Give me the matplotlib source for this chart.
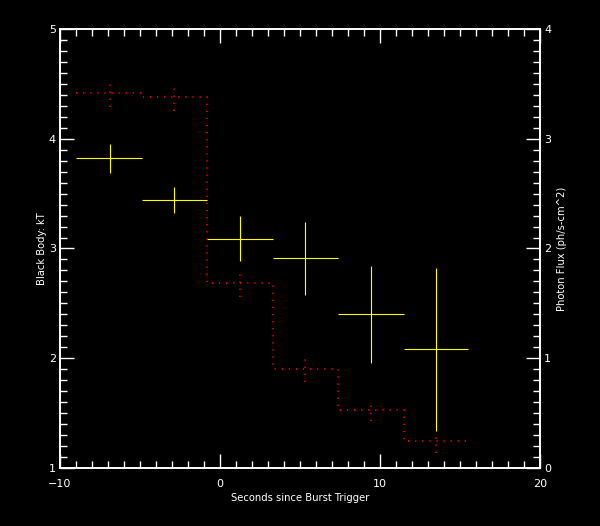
import numpy as np
import matplotlib.pyplot as plt
from matplotlib.ticker import MultipleLocator

# time bins (s since trigger)
edges = [-9.0, -4.9, -0.8, 3.3, 7.4, 11.5, 15.5]
t_mid = [-6.9, -2.86, 1.27, 5.33, 9.46, 13.52]

# black body kT (left axis)
kt = [3.825, 3.44, 3.09, 2.91, 2.40, 2.08]
kt_lo = [3.69, 3.32, 2.89, 2.58, 1.96, 1.34]
kt_hi = [3.95, 3.56, 3.30, 3.24, 2.84, 2.82]

# photon flux (right axis)
flux = [3.42, 3.378, 1.683, 0.899, 0.526, 0.243]
flux_lo = [3.29, 3.25, 1.56, 0.786, 0.425, 0.134]
flux_hi = [3.52, 3.47, 1.78, 1.01, 0.59, 0.30]


def style_axis(a):
    a.set_facecolor('black')
    for s in a.spines.values():
        s.set_color('white')
        s.set_linewidth(1.2)
    a.tick_params(which='both', direction='in', colors='white', labelsize=8)
    a.tick_params(which='major', length=10, width=1)
    a.tick_params(which='minor', length=5, width=1)


def main():
    fig = plt.figure(figsize=(6, 5.26), dpi=100, facecolor='black')
    ax = fig.add_axes([0.1, 0.1103, 0.8, 0.8346])
    ax2 = ax.twinx()

    style_axis(ax)
    style_axis(ax2)
    ax2.patch.set_visible(False)

    t = np.array(t_mid)
    e = np.array(edges)
    xlo = t - e[:-1]
    xhi = e[1:] - t
    k = np.array(kt)
    ax.errorbar(t, k, xerr=[xlo, xhi],
                yerr=[k - np.array(kt_lo), np.array(kt_hi) - k],
                fmt='none', ecolor='yellow', elinewidth=0.8, capsize=0, zorder=3)

    dots = (0, (0.75, 3.5))
    ax2.stairs(flux, edges, baseline=None, color='#ff0000',
               linestyle=dots, linewidth=1.2)
    ax2.vlines(t_mid, flux_lo, flux_hi, color='#ff0000',
               linestyle=dots, linewidth=1.2)

    ax.set_xlim(-10, 20)
    ax.set_ylim(1, 5)
    ax2.set_ylim(0, 4)
    ax.xaxis.set_major_locator(MultipleLocator(10))
    ax.xaxis.set_minor_locator(MultipleLocator(1))
    ax.yaxis.set_major_locator(MultipleLocator(1))
    ax.yaxis.set_minor_locator(MultipleLocator(0.1))
    ax2.yaxis.set_major_locator(MultipleLocator(1))
    ax2.yaxis.set_minor_locator(MultipleLocator(0.1))

    ax.tick_params(which='both', top=True, right=False)
    ax.tick_params(axis='x', pad=8)
    ax.tick_params(axis='y', pad=3)
    ax2.tick_params(axis='y', pad=3)
    ax2.tick_params(which='both', left=False)

    ax.set_xticklabels([f'{v:g}'.replace('-', '\u2212') for v in ax.get_xticks()])

    ax.set_xlabel('Seconds since Burst Trigger', color='white', fontsize=7.2, labelpad=3)
    ax.set_ylabel('Black Body: kT', color='white', fontsize=7.2, labelpad=1)
    ax2.set_ylabel('Photon Flux (ph/s-cm^2)', color='white', fontsize=7.2,
                   rotation=90, labelpad=4)

    fig.savefig('out.png', dpi=100, facecolor='black')


if __name__ == "__main__":
    main()
